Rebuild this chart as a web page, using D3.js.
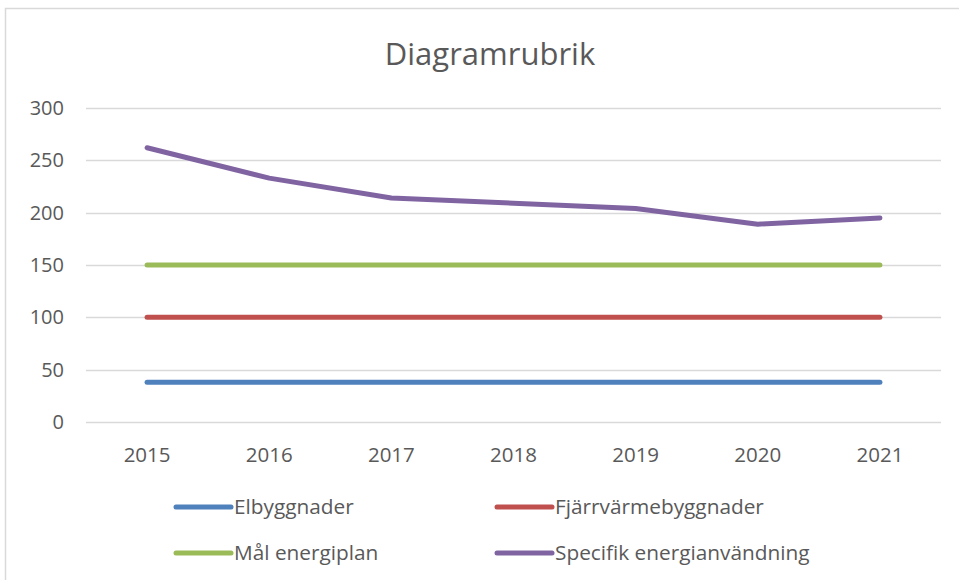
<!DOCTYPE html>
<html>
<head>
<meta charset="utf-8">
<script src="https://cdn.jsdelivr.net/npm/d3@7"></script>
<style>
  body { margin:0; background:#fff; }
  text { font-family:"Open Sans", sans-serif; fill:#595959; }
</style>
</head>
<body>
<svg id="svg1" width="959" height="580"></svg>
<script>
var years = ["2015","2016","2017","2018","2019","2020","2021"];
var elbyggnader = [38,38,38,38,38,38,38];
var fjarrvarme = [100,100,100,100,100,100,100];
var malEnergiplan = [150,150,150,150,150,150,150];
var specifik = [262,233,214,209,204,189,195];
var yTicks = [0,50,100,150,200,250,300];

var series = [
  {name:"Elbyggnader", values:elbyggnader, color:"#4f81bd"},
  {name:"Fjärrvärmebyggnader", values:fjarrvarme, color:"#c0504d"},
  {name:"Mål energiplan", values:malEnergiplan, color:"#9bbb59"},
  {name:"Specifik energianvändning", values:specifik, color:"#8064a2"}
];

var svg = d3.select("#svg1");

// chart frame
svg.append("rect")
  .attr("x",5.5).attr("y",8.5).attr("width",970).attr("height",600)
  .attr("fill","none").attr("stroke","#d9d9d9").attr("stroke-width",1.5);

svg.append("text")
  .attr("x",490).attr("y",65)
  .attr("text-anchor","middle")
  .style("font-size","31px")
  .text("Diagramrubrik");

var x = d3.scaleBand().domain(years).range([86, 941]);
var y = d3.scaleLinear().domain([0,300]).range([422, 108]);

var g = svg.append("g");

// gridlines
g.selectAll(".grid").data(yTicks).enter().append("line")
  .attr("x1",86).attr("x2",941)
  .attr("y1",function(d){ return Math.round(y(d))+0.5; })
  .attr("y2",function(d){ return Math.round(y(d))+0.5; })
  .attr("stroke","#d9d9d9").attr("stroke-width",1.5);

// y labels
g.selectAll(".ylab").data(yTicks).enter().append("text")
  .attr("x",64).attr("y",function(d){ return y(d)+7; })
  .attr("text-anchor","end")
  .style("font-size","20px")
  .text(function(d){ return d; });

// x labels
g.selectAll(".xlab").data(years).enter().append("text")
  .attr("x",function(d){ return x(d)+x.bandwidth()/2; })
  .attr("y",462)
  .attr("text-anchor","middle")
  .style("font-size","20.5px")
  .text(function(d){ return d; });

var line = d3.line()
  .x(function(d,i){ return x(years[i])+x.bandwidth()/2; })
  .y(function(d){ return y(d); });

g.selectAll(".series").data(series).enter().append("path")
  .attr("d",function(d){ return line(d.values); })
  .attr("fill","none")
  .attr("stroke",function(d){ return d.color; })
  .attr("stroke-width",5)
  .attr("stroke-linecap","round")
  .attr("stroke-linejoin","round");

// legend, 2 x 2
var legend = svg.selectAll(".leg").data(series).enter().append("g")
  .attr("transform",function(d,i){
    return "translate(" + (i%2 ? 497 : 176) + "," + (i<2 ? 507 : 553) + ")";
  });
legend.append("line")
  .attr("x1",0).attr("x2",55).attr("y1",0).attr("y2",0)
  .attr("stroke",function(d){ return d.color; })
  .attr("stroke-width",5).attr("stroke-linecap","round");
legend.append("text")
  .attr("x",58).attr("y",7)
  .style("font-size","20.8px")
  .text(function(d){ return d.name; });
</script>
</body>
</html>
